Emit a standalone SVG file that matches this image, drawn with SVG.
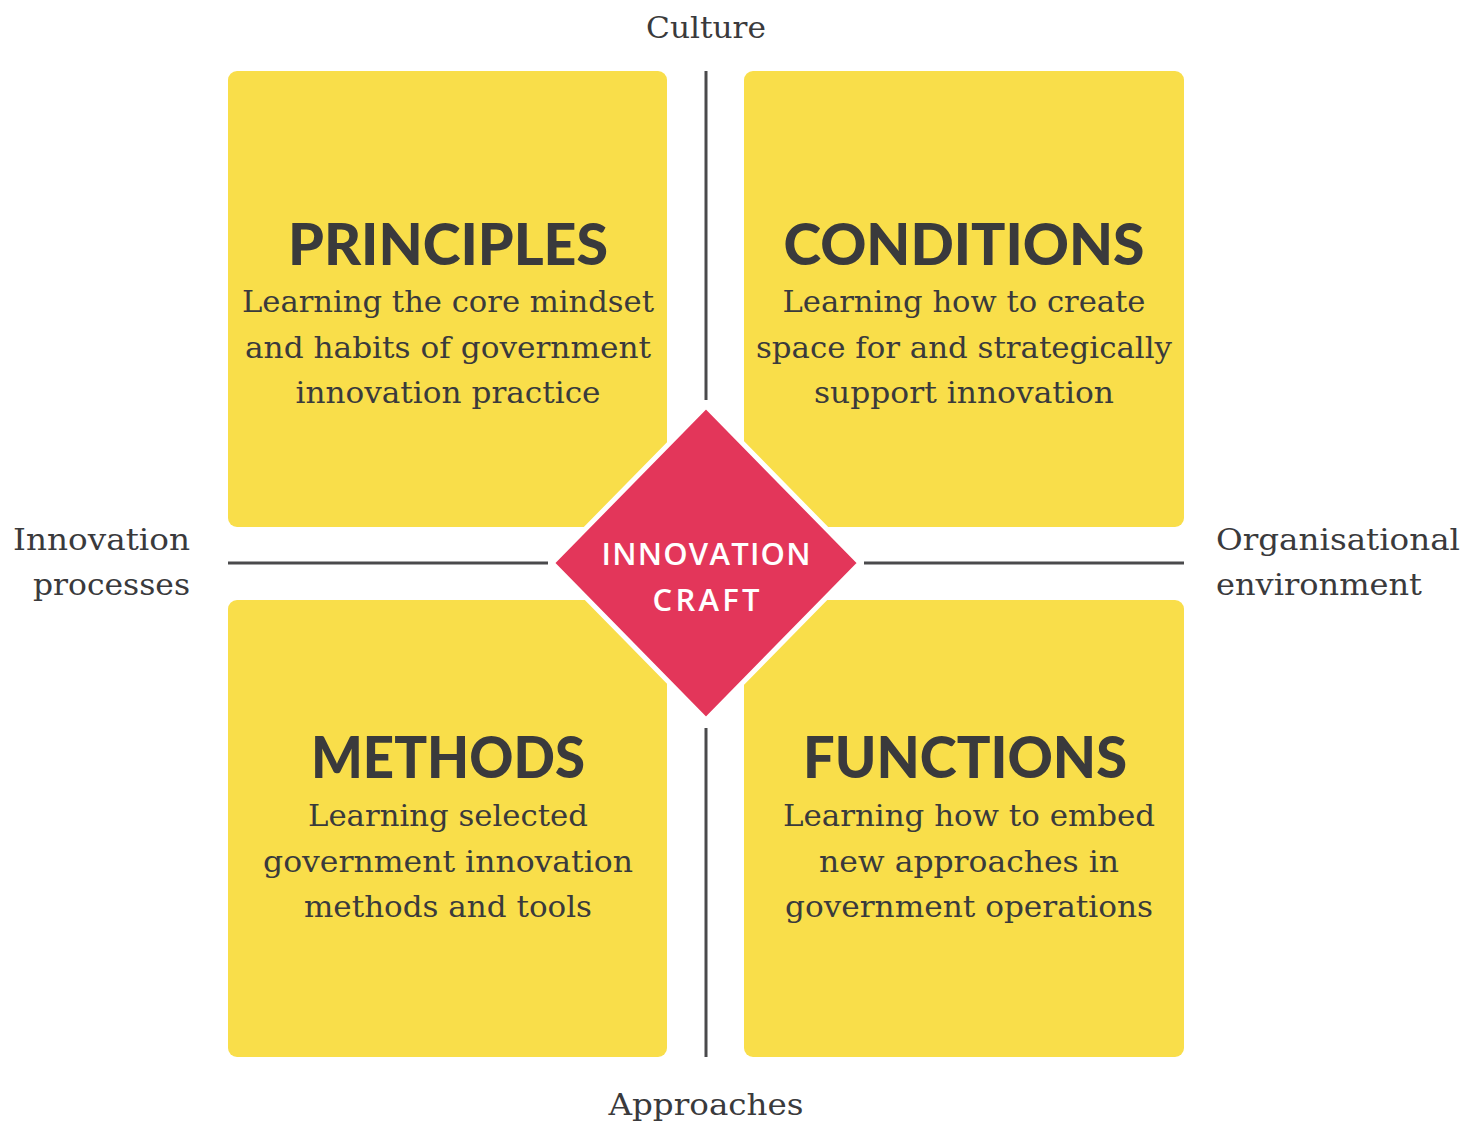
<svg xmlns="http://www.w3.org/2000/svg" width="1466" height="1124" viewBox="0 0 1466 1124">
<style>
.box{fill:#F9DE4A}
.title{font-family:Lato,"Noto Sans",sans-serif;font-weight:900;font-size:57px;fill:#3a3a3c;text-anchor:middle}
.body{font-family:"DejaVu Serif","Liberation Serif",serif;font-size:30px;fill:#3a3a3c;text-anchor:middle}
.lab{font-family:"DejaVu Serif","Liberation Serif",serif;font-size:29px;fill:#3a3a3c}
.ax{stroke:#4a4a4c;stroke-width:3;fill:none}
.core{font-family:"Open Sans","Noto Sans",sans-serif;font-weight:600;font-size:31px;fill:#ffffff;text-anchor:middle}
</style>
<rect width="1466" height="1124" fill="#ffffff"/>
<g id="connectors">
<line class="ax" x1="706" y1="71" x2="706" y2="400"/>
<line class="ax" x1="706" y1="728" x2="706" y2="1057"/>
<line class="ax" x1="228" y1="563" x2="548" y2="563"/>
<line class="ax" x1="864" y1="563" x2="1184" y2="563"/>
</g>
<g id="principles">
<rect class="box" x="228" y="71" width="439" height="456" rx="9"/>
<text class="title" x="448" y="265" textLength="320" lengthAdjust="spacingAndGlyphs">PRINCIPLES</text>
<text class="body" x="448" y="312" textLength="412" lengthAdjust="spacingAndGlyphs">Learning the core mindset</text>
<text class="body" x="448" y="358" textLength="406" lengthAdjust="spacingAndGlyphs">and habits of government</text>
<text class="body" x="448" y="403" textLength="305" lengthAdjust="spacingAndGlyphs">innovation practice</text>
</g>
<g id="conditions">
<rect class="box" x="744" y="71" width="440" height="456" rx="9"/>
<text class="title" x="964" y="265" textLength="361" lengthAdjust="spacingAndGlyphs">CONDITIONS</text>
<text class="body" x="964" y="312" textLength="363" lengthAdjust="spacingAndGlyphs">Learning how to create</text>
<text class="body" x="964" y="358" textLength="416" lengthAdjust="spacingAndGlyphs">space for and strategically</text>
<text class="body" x="964" y="403" textLength="300" lengthAdjust="spacingAndGlyphs">support innovation</text>
</g>
<g id="methods">
<rect class="box" x="228" y="600" width="439" height="457" rx="9"/>
<text class="title" x="448" y="778" textLength="274" lengthAdjust="spacingAndGlyphs">METHODS</text>
<text class="body" x="448" y="826" textLength="280" lengthAdjust="spacingAndGlyphs">Learning selected</text>
<text class="body" x="448" y="872" textLength="370" lengthAdjust="spacingAndGlyphs">government innovation</text>
<text class="body" x="448" y="917" textLength="288" lengthAdjust="spacingAndGlyphs">methods and tools</text>
</g>
<g id="functions">
<rect class="box" x="744" y="600" width="440" height="457" rx="9"/>
<text class="title" x="965" y="778" textLength="324" lengthAdjust="spacingAndGlyphs">FUNCTIONS</text>
<text class="body" x="969" y="826" textLength="372" lengthAdjust="spacingAndGlyphs">Learning how to embed</text>
<text class="body" x="969" y="872" textLength="300" lengthAdjust="spacingAndGlyphs">new approaches in</text>
<text class="body" x="969" y="917" textLength="368" lengthAdjust="spacingAndGlyphs">government operations</text>
</g>
<g id="innovation-craft">
<polygon points="706,406 860,563 706,720 552,563" fill="#E3365A" stroke="#ffffff" stroke-width="5" stroke-linejoin="miter"/>
<text class="core" x="706" y="565" textLength="209" lengthAdjust="spacing">INNOVATION</text>
<text class="core" x="706" y="611" textLength="107" lengthAdjust="spacing">CRAFT</text>
</g>
<g id="label-culture"><text class="lab" x="706" y="38" text-anchor="middle" textLength="120" lengthAdjust="spacingAndGlyphs">Culture</text></g>
<g id="label-approaches"><text class="lab" x="706" y="1115" text-anchor="middle" textLength="195" lengthAdjust="spacingAndGlyphs">Approaches</text></g>
<g id="label-innovation-processes">
<text class="lab" x="190" y="550" text-anchor="end" textLength="177" lengthAdjust="spacingAndGlyphs">Innovation</text>
<text class="lab" x="190" y="595" text-anchor="end" textLength="157" lengthAdjust="spacingAndGlyphs">processes</text>
</g>
<g id="label-organisational-environment">
<text class="lab" x="1216" y="550" textLength="244" lengthAdjust="spacingAndGlyphs">Organisational</text>
<text class="lab" x="1216" y="595" textLength="206" lengthAdjust="spacingAndGlyphs">environment</text>
</g>
</svg>
